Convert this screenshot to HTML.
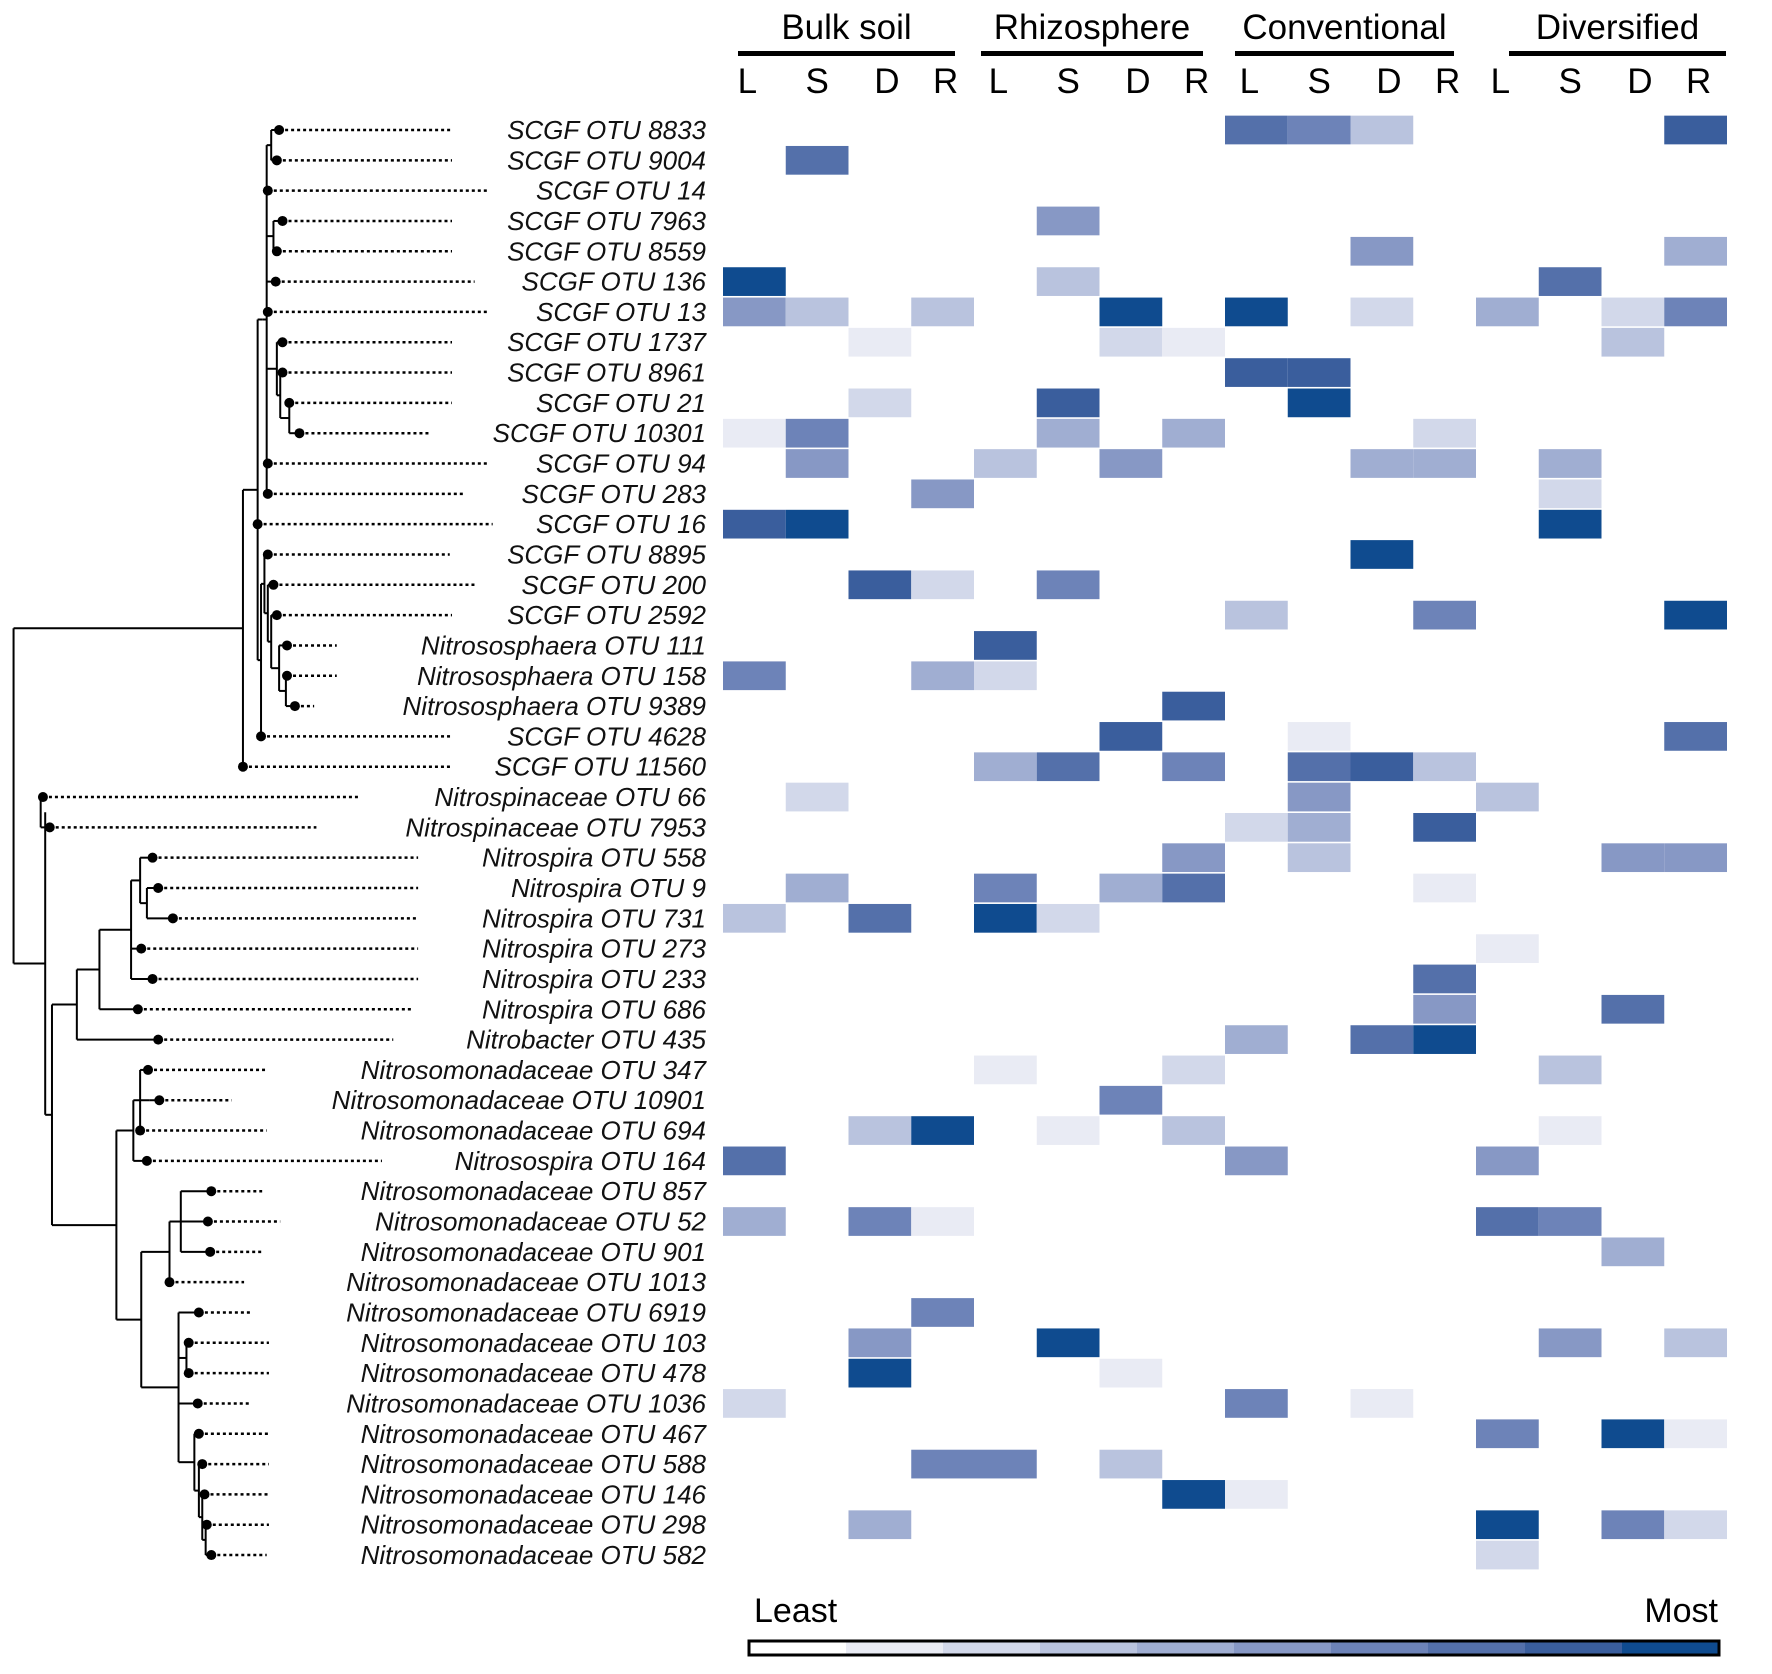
<!DOCTYPE html>
<html><head><meta charset="utf-8"><style>
html,body{margin:0;padding:0;background:#fff}
svg{display:block}
text{font-family:"Liberation Sans",sans-serif}
</style></head><body>
<svg id="chart" width="1772" height="1674" viewBox="0 0 1772 1674" xmlns="http://www.w3.org/2000/svg">
<g id="tree"></g>
<g id="labels"></g>
<g id="cells"></g>
<g id="header"></g>
<g id="legend"></g>
</svg>
<script>
const otuLabels = ["SCGF OTU 8833","SCGF OTU 9004","SCGF OTU 14","SCGF OTU 7963","SCGF OTU 8559","SCGF OTU 136","SCGF OTU 13","SCGF OTU 1737","SCGF OTU 8961","SCGF OTU 21","SCGF OTU 10301","SCGF OTU 94","SCGF OTU 283","SCGF OTU 16","SCGF OTU 8895","SCGF OTU 200","SCGF OTU 2592","Nitrososphaera OTU 111","Nitrososphaera OTU 158","Nitrososphaera OTU 9389","SCGF OTU 4628","SCGF OTU 11560","Nitrospinaceae OTU 66","Nitrospinaceae OTU 7953","Nitrospira OTU 558","Nitrospira OTU 9","Nitrospira OTU 731","Nitrospira OTU 273","Nitrospira OTU 233","Nitrospira OTU 686","Nitrobacter OTU 435","Nitrosomonadaceae OTU 347","Nitrosomonadaceae OTU 10901","Nitrosomonadaceae OTU 694","Nitrosospira OTU 164","Nitrosomonadaceae OTU 857","Nitrosomonadaceae OTU 52","Nitrosomonadaceae OTU 901","Nitrosomonadaceae OTU 1013","Nitrosomonadaceae OTU 6919","Nitrosomonadaceae OTU 103","Nitrosomonadaceae OTU 478","Nitrosomonadaceae OTU 1036","Nitrosomonadaceae OTU 467","Nitrosomonadaceae OTU 588","Nitrosomonadaceae OTU 146","Nitrosomonadaceae OTU 298","Nitrosomonadaceae OTU 582"];
const groups = ["Bulk soil","Rhizosphere","Conventional","Diversified"];
const subCols = ["L","S","D","R"];
// values per row: 16 columns (bulk LSDR, rhizo LSDR, conv LSDR, div LSDR), 0 = absent, 1..9 intensity
const values = [
[0,0,0,0, 0,0,0,0, 7,6,3,0, 0,0,0,8],
[0,7,0,0, 0,0,0,0, 0,0,0,0, 0,0,0,0],
[0,0,0,0, 0,0,0,0, 0,0,0,0, 0,0,0,0],
[0,0,0,0, 0,5,0,0, 0,0,0,0, 0,0,0,0],
[0,0,0,0, 0,0,0,0, 0,0,5,0, 0,0,0,4],
[9,0,0,0, 0,3,0,0, 0,0,0,0, 0,7,0,0],
[5,3,0,3, 0,0,9,0, 9,0,2,0, 4,0,2,6],
[0,0,1,0, 0,0,2,1, 0,0,0,0, 0,0,3,0],
[0,0,0,0, 0,0,0,0, 8,8,0,0, 0,0,0,0],
[0,0,2,0, 0,8,0,0, 0,9,0,0, 0,0,0,0],
[1,6,0,0, 0,4,0,4, 0,0,0,2, 0,0,0,0],
[0,5,0,0, 3,0,5,0, 0,0,4,4, 0,4,0,0],
[0,0,0,5, 0,0,0,0, 0,0,0,0, 0,2,0,0],
[8,9,0,0, 0,0,0,0, 0,0,0,0, 0,9,0,0],
[0,0,0,0, 0,0,0,0, 0,0,9,0, 0,0,0,0],
[0,0,8,2, 0,6,0,0, 0,0,0,0, 0,0,0,0],
[0,0,0,0, 0,0,0,0, 3,0,0,6, 0,0,0,9],
[0,0,0,0, 8,0,0,0, 0,0,0,0, 0,0,0,0],
[6,0,0,4, 2,0,0,0, 0,0,0,0, 0,0,0,0],
[0,0,0,0, 0,0,0,8, 0,0,0,0, 0,0,0,0],
[0,0,0,0, 0,0,8,0, 0,1,0,0, 0,0,0,7],
[0,0,0,0, 4,7,0,6, 0,7,8,3, 0,0,0,0],
[0,2,0,0, 0,0,0,0, 0,5,0,0, 3,0,0,0],
[0,0,0,0, 0,0,0,0, 2,4,0,8, 0,0,0,0],
[0,0,0,0, 0,0,0,5, 0,3,0,0, 0,0,5,5],
[0,4,0,0, 6,0,4,7, 0,0,0,1, 0,0,0,0],
[3,0,7,0, 9,2,0,0, 0,0,0,0, 0,0,0,0],
[0,0,0,0, 0,0,0,0, 0,0,0,0, 1,0,0,0],
[0,0,0,0, 0,0,0,0, 0,0,0,7, 0,0,0,0],
[0,0,0,0, 0,0,0,0, 0,0,0,5, 0,0,7,0],
[0,0,0,0, 0,0,0,0, 4,0,7,9, 0,0,0,0],
[0,0,0,0, 1,0,0,2, 0,0,0,0, 0,3,0,0],
[0,0,0,0, 0,0,6,0, 0,0,0,0, 0,0,0,0],
[0,0,3,9, 0,1,0,3, 0,0,0,0, 0,1,0,0],
[7,0,0,0, 0,0,0,0, 5,0,0,0, 5,0,0,0],
[0,0,0,0, 0,0,0,0, 0,0,0,0, 0,0,0,0],
[4,0,6,1, 0,0,0,0, 0,0,0,0, 7,6,0,0],
[0,0,0,0, 0,0,0,0, 0,0,0,0, 0,0,4,0],
[0,0,0,0, 0,0,0,0, 0,0,0,0, 0,0,0,0],
[0,0,0,6, 0,0,0,0, 0,0,0,0, 0,0,0,0],
[0,0,5,0, 0,9,0,0, 0,0,0,0, 0,5,0,3],
[0,0,9,0, 0,0,1,0, 0,0,0,0, 0,0,0,0],
[2,0,0,0, 0,0,0,0, 6,0,1,0, 0,0,0,0],
[0,0,0,0, 0,0,0,0, 0,0,0,0, 6,0,9,1],
[0,0,0,6, 6,0,3,0, 0,0,0,0, 0,0,0,0],
[0,0,0,0, 0,0,0,9, 1,0,0,0, 0,0,0,0],
[0,0,4,0, 0,0,0,0, 0,0,0,0, 9,0,6,2],
[0,0,0,0, 0,0,0,0, 0,0,0,0, 2,0,0,0]
];
const legendLevels = [0,1,2,3,4,5,6,7,8,9];

const NS="http://www.w3.org/2000/svg";
function mk(tag,attrs,parent){const e=document.createElementNS(NS,tag);for(const k in attrs)e.setAttribute(k,attrs[k]);parent.appendChild(e);return e;}
const palette=["#ffffff","#e9ebf4","#d2d8ea","#b9c3de","#a0aed2","#8798c5","#6d83b8","#5470aa","#3a5e9d","#0f4b8f"];
const colorOf=v=>palette[Math.max(0,Math.min(9,v))];

const S=1.13;
const heatX0=723, colW=62.75, rowY0=130, rowH=30.32;
const xCol=c=>heatX0+c*colW;
const yRow=r=>rowY0+r*rowH;

// cells
const cells=document.getElementById('cells');
values.forEach((row,r)=>row.forEach((v,c)=>{
  if(!v)return;
  const rc=mk('rect',{x:xCol(c),y:yRow(r)-rowH/2+0.8,width:colW,height:rowH-1.6,fill:colorOf(v)},cells);
  
  
}));

// labels
const labels=document.getElementById('labels');
otuLabels.forEach((t,r)=>{
  const tx=mk('text',{x:706,y:yRow(r)+9,'text-anchor':'end','font-size':26,'font-style':'italic',fill:'#111'},labels);
  tx.textContent=t;
  
  
});

// header
const header=document.getElementById('header');
const barL=[738,981,1235,1509], barR=[955,1203,1454,1726];
const letterOff=[-7,0,7,3];
groups.forEach((g,i)=>{
  const xc=(barL[i]+barR[i])/2;
  const gt=mk('text',{x:xc,y:39,'text-anchor':'middle','font-size':35,fill:'#000'},header);
  gt.textContent=g;
  
  
  const bar=mk('rect',{x:barL[i],y:51,width:barR[i]-barL[i],height:5,fill:'#000'},header);
  
  
  subCols.forEach((s,j)=>{
    const st=mk('text',{x:xCol(i*4+j)+colW/2+letterOff[j],y:93,'text-anchor':'middle','font-size':35,fill:'#000'},header);
    st.textContent=s;
    
    
  });
});

// legend
const legend=document.getElementById('legend');
const lx0=749,lx1=1719,ly=1641,lh=14;
const segW=(lx1-lx0)/legendLevels.length;
legendLevels.forEach((v,i)=>{
  const r=mk('rect',{x:lx0+i*segW,y:ly,width:segW+0.5,height:lh,fill:colorOf(v)},legend);
  
  
});
const lb=mk('rect',{x:lx0,y:ly,width:lx1-lx0,height:lh,fill:'none',stroke:'#000','stroke-width':3},legend);


const least=mk('text',{x:754,y:1622,'font-size':34,fill:'#000'},legend);
least.textContent='Least';


const most=mk('text',{x:1718,y:1622,'text-anchor':'end','font-size':34,fill:'#000'},legend);
most.textContent='Most';



// tree (display coords * S)
const leafX=[247,245,237,250,245,244,237,250,250,256,265,237,237,228,237,242,245,254,254,261,231,215,38,44,135,140,153,125,135,122,140,131,141,124,130,187,184,186,150,176,167,167,175,176,179,181,183,187];
const leafEnd=[400,400,432,400,400,420,432,400,400,400,380,432,412,436,398,420,400,298,298,278,400,400,318,280,370,370,370,370,370,365,348,236,205,236,338,232,248,232,216,222,238,238,222,238,238,238,238,236];
const treeSpec={x:12,c:[
 {x:215,c:[
   {x:228,c:[
     {x:232,c:[{x:236,c:[{x:240,c:[0,1]},2,{x:242,c:[3,4]},5,6,{x:245,c:[7,{x:248,c:[8,{x:256,c:[9,10]}]}]},11,12]}]},
     13,
     {x:231,c:[{x:234,c:[14,{x:237,c:[15,{x:240,c:[16,{x:247,c:[17,{x:253,c:[18,19]}]}]}]}]},20]}
   ]},21]},
 {x:40,c:[
   {x:36,c:[22,23]},
   {x:46,c:[
     {x:68,c:[{x:88,c:[{x:116,c:[{x:124,c:[24,{x:130,c:[25,26]}]},27,28]},29]},30]},
     {x:103,c:[{x:118,c:[{x:124,c:[31,{x:132,c:[32]},33]},34]},
              {x:125,c:[{x:150,c:[{x:160,c:[35,36,37]},38]},{x:158,c:[39,{x:165,c:[40,41]},42,{x:172,c:[43,{x:176,c:[44,{x:179,c:[45,{x:182,c:[46,47]}]}]}]}]}]}]}
   ]}
 ]}
]};
const tree=document.getElementById('tree');
const ln=(x1,y1,x2,y2,extra)=>{const l=mk('line',Object.assign({x1,y1,x2,y2,stroke:'#000','stroke-width':2},extra||{}),tree);return l;};
function draw(node){
  if(typeof node==='number'){
    const y=yRow(node), x=leafX[node]*S;
    const d=ln(x,y,leafEnd[node]*S,y,{'stroke-dasharray':'3,3','stroke-width':2.5});
    
    
    const c=mk('circle',{cx:x,cy:y,r:5,fill:'#000'},tree);
    
    
    return {x,y};
  }
  const nx=node.x*S;
  const kids=node.c.map(draw);
  const ys=kids.map(k=>k.y);
  const y0=Math.min(...ys), y1=Math.max(...ys);
  if(y1>y0){const v=ln(nx,y0,nx,y1);}
  kids.forEach(k=>{if(k.x>nx){const h=ln(nx,k.y,k.x,k.y);}});
  return {x:nx,y:(y0+y1)/2};
}
draw(treeSpec);
</script>
</body></html>
